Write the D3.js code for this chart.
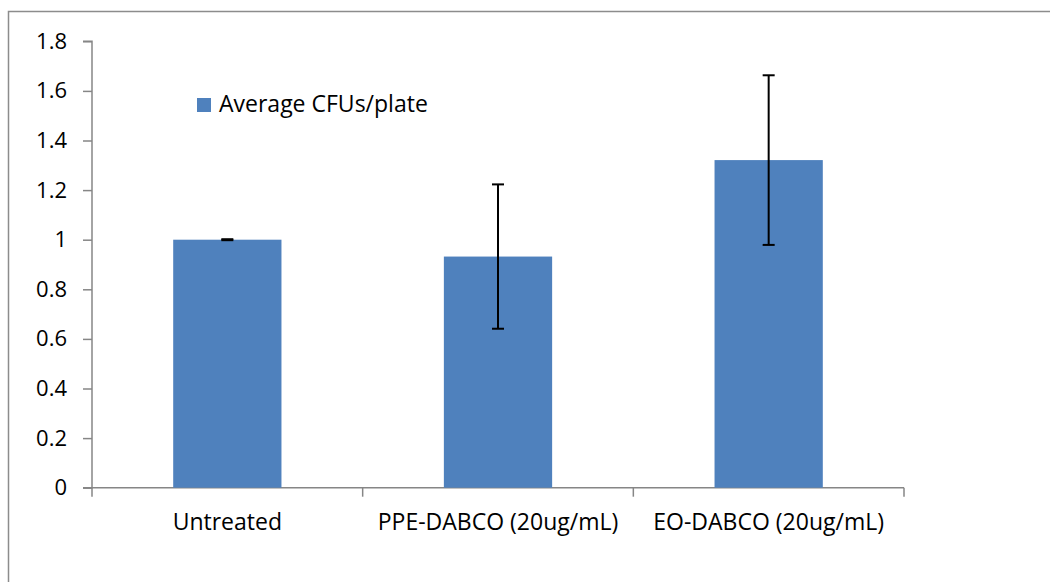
<!DOCTYPE html>
<html><head><meta charset="utf-8">
<script src="https://cdn.jsdelivr.net/npm/d3@7"></script>
<style>body{margin:0;background:#fff}svg{display:block}</style>
</head><body>
<script>
const categories = ["Untreated", "PPE-DABCO (20ug/mL)", "EO-DABCO (20ug/mL)"];
const values = [1.0, 0.932, 1.321];
const errors = [0.002, 0.291, 0.342];
const yTicks = [0, 0.2, 0.4, 0.6, 0.8, 1, 1.2, 1.4, 1.6, 1.8];
const seriesName = "Average CFUs/plate";

const W = 1050, H = 582;
const font = "'Open Sans', sans-serif";
const svg = d3.select("body").append("svg").attr("width", W).attr("height", H);
svg.append("rect").attr("width", W).attr("height", H).attr("fill", "#fff");
// outer frame
svg.append("path").attr("d", `M8.5,${H} V11.5 H${W}`).attr("fill","none").attr("stroke","#8c8c8c").attr("stroke-width",1.5);

const x0 = 92, x1 = 904, yTop = 41.3, yBot = 487.7;
const x = d3.scaleBand().domain(categories).range([x0, x1]).paddingInner(0.6).paddingOuter(0.3);
const y = d3.scaleLinear().domain([0, 1.8]).range([yBot, yTop]);

const axisColor = "#868686";
// y axis
const gy = svg.append("g").attr("transform", `translate(${x0},0)`)
  .call(d3.axisLeft(y).tickValues(yTicks).tickSize(9).tickPadding(16).tickFormat(d => d3.format("~g")(d)));
gy.attr("font-size", null).attr("font-family", null);
gy.select(".domain").attr("stroke", axisColor).attr("stroke-width", 1.5).attr("d", `M-9,${yTop}H0V${yBot}H-9`);
gy.selectAll(".tick line").attr("stroke", axisColor).attr("stroke-width", 1.5);
gy.selectAll(".tick text").attr("fill", "#000").style("font-family", font).style("font-size", "22px");

// x axis
const bandW = (x1 - x0) / categories.length;
const gx = svg.append("g").attr("transform", `translate(0,${yBot})`);
gx.append("line").attr("x1", x0).attr("x2", x1).attr("stroke", axisColor).attr("stroke-width", 1.5);
d3.range(categories.length + 1).forEach(i => {
  gx.append("line").attr("x1", x0 + i * bandW).attr("x2", x0 + i * bandW).attr("y1", 0).attr("y2", 9)
    .attr("stroke", axisColor).attr("stroke-width", 1.5);
});
gx.selectAll("text.cat").data(categories).join("text").attr("class","cat")
  .attr("x", d => x(d) + x.bandwidth() / 2).attr("y", 42)
  .attr("text-anchor", "middle").style("font-family", font).style("font-size", "23px").attr("fill", "#000")
  .text(d => d);

// bars
svg.selectAll("rect.bar").data(categories).join("rect").attr("class","bar")
  .attr("x", d => x(d)).attr("width", x.bandwidth())
  .attr("y", (d, i) => y(values[i])).attr("height", (d, i) => yBot - y(values[i]))
  .attr("fill", "#4f81bd");

// error bars
const eg = svg.append("g").attr("stroke", "#000").attr("stroke-width", 2);
categories.forEach((c, i) => {
  const cx = x(c) + x.bandwidth() / 2;
  const hi = y(values[i] + errors[i]), lo = y(values[i] - errors[i]);
  eg.append("line").attr("x1", cx).attr("x2", cx).attr("y1", hi).attr("y2", lo);
  eg.append("line").attr("x1", cx - 6).attr("x2", cx + 6).attr("y1", hi).attr("y2", hi);
  eg.append("line").attr("x1", cx - 6).attr("x2", cx + 6).attr("y1", lo).attr("y2", lo);
});

// legend
const lg = svg.append("g").attr("transform", "translate(197,98)");
lg.append("rect").attr("width", 14).attr("height", 14).attr("fill", "#4f81bd");
lg.append("text").attr("x", 22).attr("y", 14).style("font-family", font).style("font-size", "23px").attr("fill","#000").text(seriesName);
</script>
</body></html>
